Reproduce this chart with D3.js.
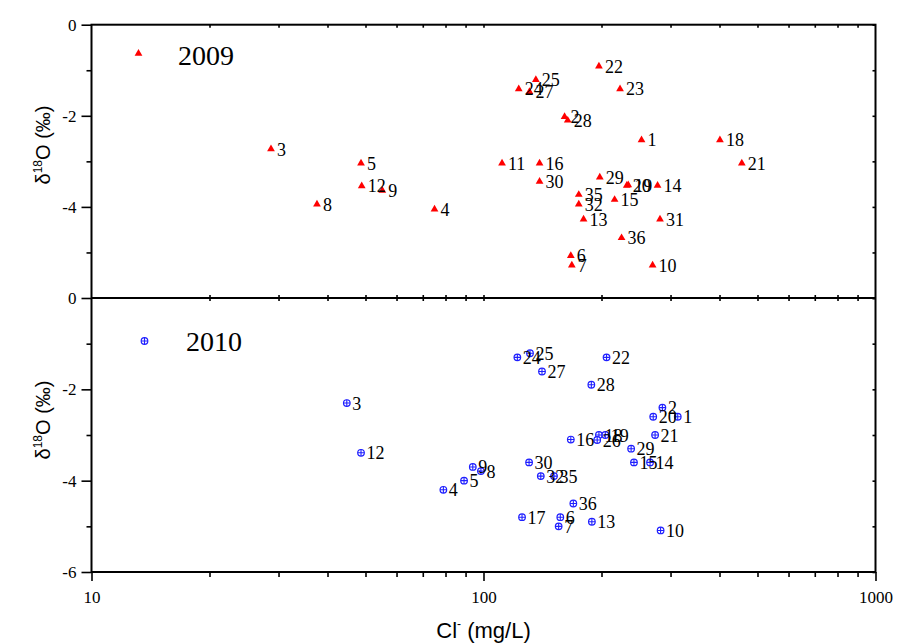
<!DOCTYPE html>
<html>
<head>
<meta charset="utf-8">
<script src="https://cdn.jsdelivr.net/npm/d3@7"></script>
<style>
  body { margin: 0; background: #fff; }
  svg { display: block; }
</style>
</head>
<body>
<div id="chart"></div>
<script>
// 2009 sampling: well id, Cl- (mg/L), d18O (permil)
const ids2009 = [1, 2, 3, 4, 5, 6, 7, 8, 9, 10, 11, 12, 13, 14, 15, 16, 18, 19, 20, 21, 22, 23, 24, 25, 27, 28, 29, 30, 31, 32, 35, 36];
const cl2009 = [253, 161, 28.7, 75, 48.7, 167, 168, 37.6, 55.2, 270, 111.5, 48.9, 180, 278, 216, 139, 401, 234, 232, 456, 197, 223, 123, 136, 131, 164, 198, 139, 282, 175, 175, 225];
const d2009 = [-2.53, -2.02, -2.73, -4.05, -3.04, -5.07, -5.28, -3.94, -3.64, -5.28, -3.04, -3.54, -4.27, -3.53, -3.84, -3.04, -2.53, -3.52, -3.53, -3.04, -0.91, -1.41, -1.41, -1.21, -1.47, -2.1, -3.35, -3.44, -4.27, -3.94, -3.73, -4.68];

// 2010 sampling
const ids2010 = [1, 2, 3, 4, 5, 6, 7, 8, 9, 10, 12, 13, 14, 15, 16, 17, 18, 19, 20, 21, 22, 24, 25, 26, 27, 28, 29, 30, 32, 35, 36];
const cl2010 = [313, 286, 44.8, 79, 89.2, 157, 155.5, 98.5, 93.9, 283, 48.7, 189, 266, 242, 167, 125.4, 197, 204.5, 271, 274, 206, 122, 131.4, 195, 141, 188.4, 238, 130.7, 140, 151.3, 169.5];
const d2010 = [-2.6, -2.4, -2.3, -4.2, -4.0, -4.8, -5.0, -3.79, -3.7, -5.09, -3.39, -4.9, -3.6, -3.6, -3.1, -4.8, -3.0, -3.0, -2.6, -3.0, -1.3, -1.3, -1.21, -3.11, -1.61, -1.9, -3.3, -3.6, -3.9, -3.9, -4.5];

const xMajor = [10, 100, 1000];
const xMinor = [20, 30, 40, 50, 60, 70, 80, 90, 200, 300, 400, 500, 600, 700, 800, 900];
const yMajorTop = [0, -2, -4];
const yMajorBot = [0, -2, -4, -6];
const yMinor = [-1, -3, -5];
const yAll = [0, -1, -2, -3, -4, -5, -6];

const width = 897, height = 644;
const plotL = 91.5, plotR = 875.5, plotT = 24.7, plotM = 298, plotB = 572;

const svg = d3.select("#chart").append("svg")
    .attr("width", width)
    .attr("height", height);

const x = d3.scaleLog().domain([10, 1000]).range([plotL, plotR]);
const yTop = d3.scaleLinear().domain([0, -6]).range([plotT, plotM]);
const yBot = d3.scaleLinear().domain([0, -6]).range([plotM, plotB]);

const serif = '"Liberation Serif", "Times New Roman", serif';
const sans = '"Liberation Sans", Arial, sans-serif';

function styleAxis(g) {
    g.select(".domain").remove();
    g.selectAll(".tick line").attr("stroke", "#000").attr("stroke-width", 1.6);
    g.selectAll(".tick text")
        .style("font-family", serif)
        .style("font-size", "17px")
        .attr("fill", "#000");
}

// frame ticks (inward, small) on top, middle and right
svg.append("g").attr("transform", `translate(0,${plotT})`)
    .call(d3.axisBottom(x).tickValues(xMinor.concat([100])).tickSize(3).tickFormat(""))
    .call(styleAxis);
svg.append("g").attr("transform", `translate(0,${plotM})`)
    .call(d3.axisTop(x).tickValues(xMinor.concat([100])).tickSize(3).tickFormat(""))
    .call(styleAxis);
svg.append("g").attr("transform", `translate(0,${plotM})`)
    .call(d3.axisBottom(x).tickValues(xMinor.concat([100])).tickSize(3).tickFormat(""))
    .call(styleAxis);
[yTop, yBot].forEach(y => {
    svg.append("g").attr("transform", `translate(${plotR},0)`)
        .call(d3.axisLeft(y).tickValues(yAll).tickSize(3).tickFormat(""))
        .call(styleAxis);
});

// left axis
svg.append("g").attr("transform", `translate(${plotL},0)`)
    .call(d3.axisLeft(yTop).tickValues(yMajorTop).tickSize(10).tickPadding(5).tickFormat(d => String(d)))
    .call(styleAxis);
svg.append("g").attr("transform", `translate(${plotL},0)`)
    .call(d3.axisLeft(yTop).tickValues(yMinor).tickSize(5).tickFormat(""))
    .call(styleAxis);
svg.append("g").attr("transform", `translate(${plotL},0)`)
    .call(d3.axisLeft(yBot).tickValues(yMajorBot).tickSize(10).tickPadding(5).tickFormat(d => String(d)))
    .call(styleAxis);
svg.append("g").attr("transform", `translate(${plotL},0)`)
    .call(d3.axisLeft(yBot).tickValues(yMinor).tickSize(5).tickFormat(""))
    .call(styleAxis);

// bottom axis
svg.append("g").attr("transform", `translate(0,${plotB})`)
    .call(d3.axisBottom(x).tickValues(xMajor).tickSize(9).tickPadding(10).tickFormat(d => String(d)))
    .call(styleAxis);
svg.append("g").attr("transform", `translate(0,${plotB})`)
    .call(d3.axisBottom(x).tickValues(xMinor).tickSize(5).tickFormat(""))
    .call(styleAxis);

// frame lines
svg.append("rect")
    .attr("x", plotL).attr("y", plotT)
    .attr("width", plotR - plotL).attr("height", plotB - plotT)
    .attr("fill", "none").attr("stroke", "#000").attr("stroke-width", 2);
svg.append("line")
    .attr("x1", plotL).attr("x2", plotR).attr("y1", plotM).attr("y2", plotM)
    .attr("stroke", "#000").attr("stroke-width", 2);

// markers
const tri = d3.symbol(d3.symbolTriangle).size(26);
function drawTri(g, cx, cy) {
    g.append("path").attr("d", tri).attr("transform", `translate(${cx},${cy})`).attr("fill", "#ff0000");
}
function drawCross(g, cx, cy) {
    const r = 3.3;
    g.append("circle").attr("cx", cx).attr("cy", cy).attr("r", r)
        .attr("fill", "#fff").attr("stroke", "#1f1fff").attr("stroke-width", 1.2);
    g.append("path").attr("d", `M${cx - r},${cy}H${cx + r}M${cx},${cy - r}V${cy + r}`)
        .attr("stroke", "#1f1fff").attr("stroke-width", 1.1);
}

const g09 = svg.append("g");
ids2009.forEach((id, i) => drawTri(g09, x(cl2009[i]), yTop(d2009[i])));
ids2009.forEach((id, i) => {
    g09.append("text")
        .attr("x", x(cl2009[i]) + 6).attr("y", yTop(d2009[i]) + 6.5)
        .attr("font-family", serif).attr("font-size", 18)
        .text(id);
});

const g10 = svg.append("g");
ids2010.forEach((id, i) => drawCross(g10, x(cl2010[i]), yBot(d2010[i])));
ids2010.forEach((id, i) => {
    g10.append("text")
        .attr("x", x(cl2010[i]) + 5.5).attr("y", yBot(d2010[i]) + 6.5)
        .attr("font-family", serif).attr("font-size", 18)
        .text(id);
});

// legends
drawTri(svg, 138.5, 53.5);
svg.append("text").attr("x", 178).attr("y", 65)
    .attr("font-family", serif).attr("font-size", 28).text("2009");
drawCross(svg, 144.5, 341);
svg.append("text").attr("x", 186).attr("y", 351)
    .attr("font-family", serif).attr("font-size", 28).text("2010");

// axis titles
function yTitle(cy) {
    const t = svg.append("text")
        .attr("transform", `translate(50,${cy}) rotate(-90)`)
        .attr("text-anchor", "middle")
        .attr("font-family", sans).attr("font-size", 20);
    t.append("tspan").text("δ");
    t.append("tspan").attr("font-size", 12).attr("dy", -8).text("18");
    t.append("tspan").attr("dy", 8).text("O (‰)");
}
yTitle(145);
yTitle(420);

const xt = svg.append("text")
    .attr("x", (plotL + plotR) / 2).attr("y", 638)
    .attr("text-anchor", "middle")
    .attr("font-family", sans).attr("font-size", 22);
xt.append("tspan").text("Cl");
xt.append("tspan").attr("font-size", 12).attr("dy", -10).text("-");
xt.append("tspan").attr("dy", 10).text(" (mg/L)");
</script>
</body>
</html>
